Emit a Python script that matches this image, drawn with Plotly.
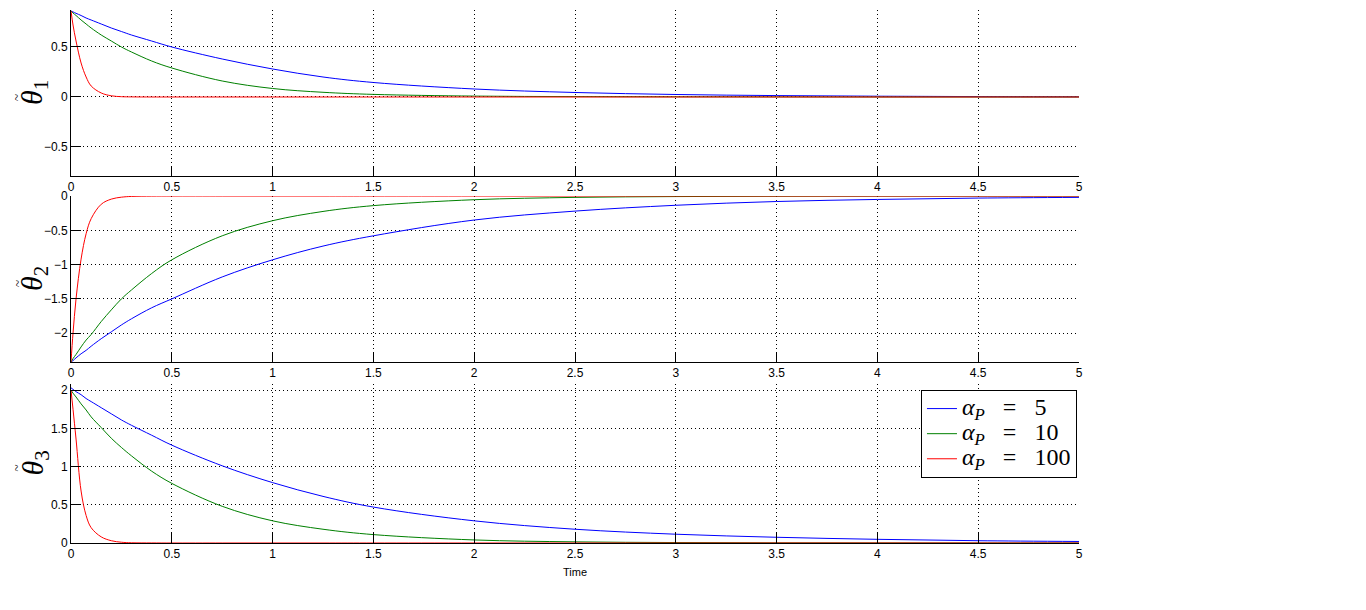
import plotly.graph_objects as go
from plotly.subplots import make_subplots

# tiempo (s)
t = [0, 0.01, 0.025, 0.05, 0.075, 0.1, 0.15, 0.2, 0.25, 0.3, 0.4, 0.5,
     0.75, 1.0, 1.25, 1.5, 2.0, 2.5, 3.0, 3.5, 4.0, 4.5, 5.0]

# theta1 tilde
th1_a5 = [0.86, 0.851, 0.837, 0.815, 0.79, 0.77, 0.73, 0.69, 0.655, 0.62, 0.56, 0.50,
          0.38, 0.28, 0.20, 0.145, 0.08, 0.045, 0.025, 0.014, 0.008, 0.004, 0.002]
th1_a10 = [0.86, 0.84, 0.815, 0.77, 0.73, 0.69, 0.62, 0.56, 0.50, 0.45, 0.36, 0.29,
           0.16, 0.085, 0.047, 0.026, 0.009, 0.004, 0.002, 0.001, 0, 0, 0]
th1_a100 = [0.86, 0.72, 0.56, 0.34, 0.20, 0.11, 0.04, 0.012, 0.003, 0.001, 0, 0,
            0, 0, 0, 0, 0, 0, 0, 0, 0, 0, 0]

# theta2 tilde
th2_a5 = [-2.42, -2.40, -2.36, -2.30, -2.25, -2.19, -2.08, -1.98, -1.88, -1.79, -1.63, -1.50,
          -1.18, -0.93, -0.73, -0.58, -0.35, -0.22, -0.135, -0.08, -0.05, -0.03, -0.02]
th2_a10 = [-2.42, -2.37, -2.31, -2.20, -2.10, -2.02, -1.83, -1.66, -1.50, -1.37, -1.13, -0.93,
           -0.58, -0.36, -0.225, -0.14, -0.054, -0.02, -0.008, -0.003, -0.001, 0, 0]
th2_a100 = [-2.42, -2.0, -1.50, -0.92, -0.55, -0.33, -0.12, -0.045, -0.017, -0.006, -0.001, 0,
            0, 0, 0, 0, 0, 0, 0, 0, 0, 0, 0]

# theta3 tilde
th3_a5 = [2.03, 2.01, 1.98, 1.94, 1.89, 1.85, 1.77, 1.69, 1.61, 1.54, 1.41, 1.28,
          1.01, 0.79, 0.61, 0.47, 0.29, 0.18, 0.115, 0.075, 0.048, 0.03, 0.02]
th3_a10 = [2.0, 1.96, 1.91, 1.82, 1.74, 1.65, 1.51, 1.37, 1.25, 1.14, 0.94, 0.78,
           0.48, 0.29, 0.18, 0.11, 0.04, 0.015, 0.006, 0.002, 0.001, 0, 0]
th3_a100 = [2.0, 1.75, 1.36, 0.68, 0.36, 0.2, 0.08, 0.03, 0.01, 0.003, 0.001, 0,
            0, 0, 0, 0, 0, 0, 0, 0, 0, 0, 0]

alphas = ["5", "10", "100"]
colores = ["#0000ff", "#008000", "#ff0000"]

datos = [
    [th1_a5, th1_a10, th1_a100],
    [th2_a5, th2_a10, th2_a100],
    [th3_a5, th3_a10, th3_a100],
]
y_titulos = ["<i>θ</i><sub>1</sub>", "<i>θ</i><sub>2</sub>", "<i>θ</i><sub>3</sub>"]
y_rangos = [[-0.79, 0.87], [-2.42, 0], [0, 2.08]]
y_ticks = [[-0.5, 0, 0.5], [-2, -1.5, -1, -0.5, 0], [0, 0.5, 1, 1.5, 2]]
dominios = [[0.6886, 1.0], [0.3396, 0.651], [0.0, 0.2983]]

x_ticks = [0, 0.5, 1, 1.5, 2, 2.5, 3, 3.5, 4, 4.5, 5]
x_labels = ["0", "0.5", "1", "1.5", "2", "2.5", "3", "3.5", "4", "4.5", "5"]

fuente_ejes = dict(family="Liberation Sans", size=12, color="black")
serif = "Liberation Serif"

fig = make_subplots(rows=3, cols=1)

for i in range(3):
    for j in range(3):
        etiqueta = ('<span style="font-size:24px;font-family:\'Liberation Serif\'">'
                    '<i>α</i><sub><i>P</i></sub>'
                    '&nbsp;&nbsp;&nbsp;=&nbsp;&nbsp;&nbsp;' + alphas[j] + '</span>')
        fig.add_trace(
            go.Scatter(x=t, y=datos[i][j], mode="lines", line_shape="spline",
                       line=dict(color=colores[j], width=1),
                       name=etiqueta, showlegend=(i == 2)),
            row=i + 1, col=1
        )
    fig.update_xaxes(range=[0, 5], tickvals=x_ticks, ticktext=x_labels,
                     ticks="inside", ticklen=10, tickcolor="black",
                     showline=True, linecolor="black", linewidth=1, mirror=False,
                     showgrid=True, gridcolor="black", griddash="1px,3px", gridwidth=1,
                     zeroline=False, tickfont=fuente_ejes, automargin=False,
                     row=i + 1, col=1)
    fig.update_yaxes(range=y_rangos[i], tickvals=y_ticks[i], domain=dominios[i],
                     ticks="inside", ticklen=10, tickcolor="black",
                     showline=True, linecolor="black", linewidth=1, mirror=False,
                     showgrid=True, gridcolor="black", griddash="1px,3px", gridwidth=1,
                     zeroline=False, tickfont=fuente_ejes, automargin=False,
                     row=i + 1, col=1)
    # etiqueta del eje y (theta con tilde encima)
    medio = sum(dominios[i]) / 2
    fig.add_annotation(text=y_titulos[i], xref="paper", yref="paper",
                       x=-0.0367, y=medio, xanchor="center", yanchor="middle",
                       textangle=-90, showarrow=False,
                       font=dict(family=serif, size=30, color="black"))
    fig.add_annotation(text="~", xref="paper", yref="paper",
                       x=-0.0536, y=medio, yshift=-4, xanchor="center", yanchor="middle",
                       textangle=-90, showarrow=False,
                       font=dict(family=serif, size=13, color="black"))

fig.add_annotation(text="Time", xref="paper", yref="paper", x=0.5, y=-0.0544,
                   xanchor="center", yanchor="middle", showarrow=False,
                   font=dict(family="Liberation Sans", size=11, color="black"))

# el body del html tiene 8px de margen
fig.update_layout(
    width=1366, height=610,
    margin=dict(l=63, r=295, t=2, b=75),
    plot_bgcolor="white", paper_bgcolor="white",
    legend=dict(x=0.998, y=0.287, xanchor="right", yanchor="top",
                bgcolor="white", bordercolor="black", borderwidth=1,
                font=dict(family=serif, size=17, color="black"),
                tracegroupgap=0),
)

fig.write_html("out.html")
